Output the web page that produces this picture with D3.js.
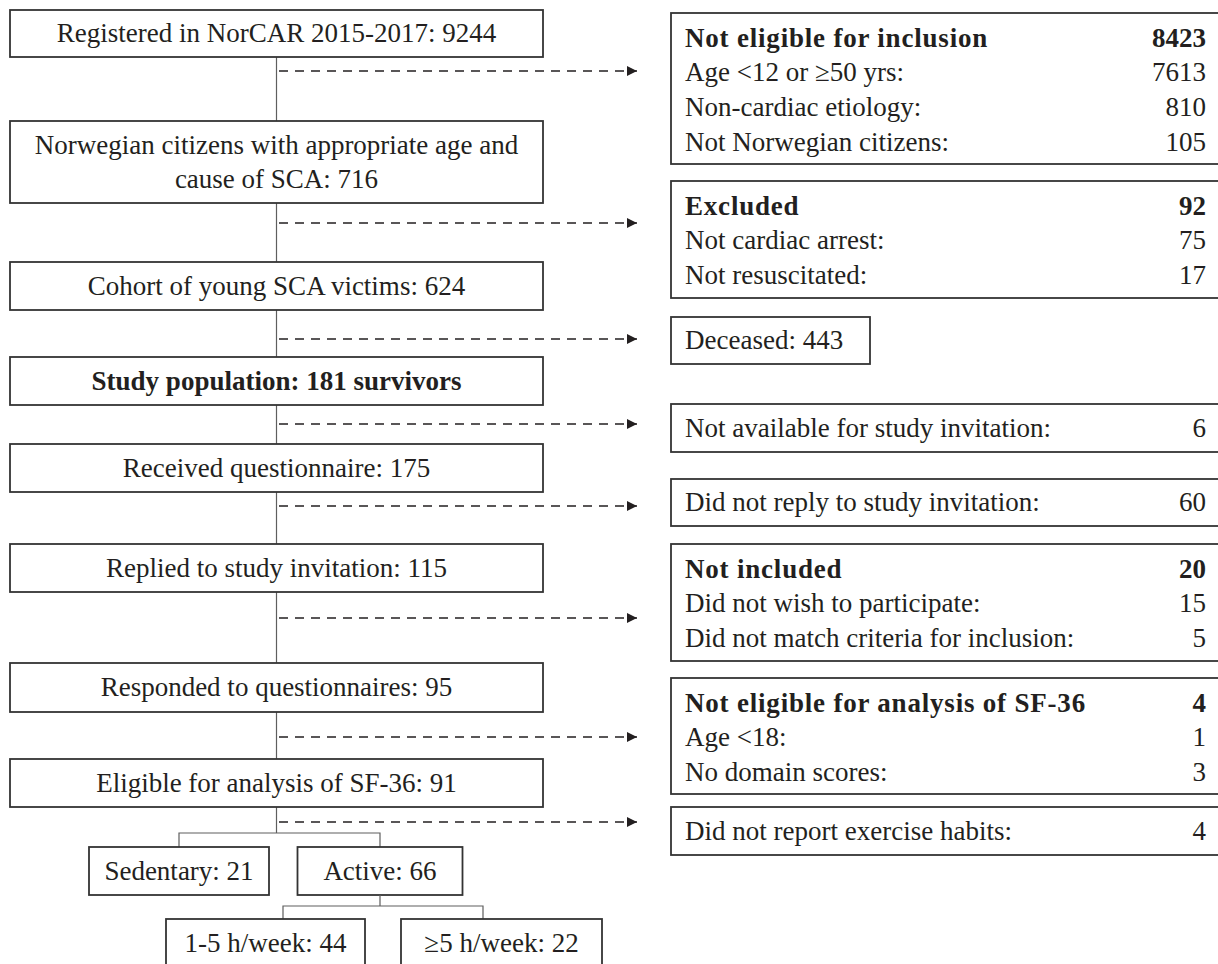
<!DOCTYPE html>
<html>
<head>
<meta charset="utf-8">
<script src="https://cdn.jsdelivr.net/npm/d3@7/dist/d3.min.js"></script>
<style>
  html, body { margin: 0; padding: 0; background: #ffffff; }
  svg { display: block; }
  text { font-family: "Liberation Serif", "Times New Roman", serif; fill: #231f20; }
</style>
</head>
<body>
<svg id="chart" width="1218" height="964"></svg>
<script>
// ---------------- DATA ----------------
const mainLabels = [
  "Registered in NorCAR 2015-2017",
  "Norwegian citizens with appropriate age and cause of SCA",
  "Cohort of young SCA victims",
  "Study population",
  "Received questionnaire",
  "Replied to study invitation",
  "Responded to questionnaires",
  "Eligible for analysis of SF-36"
];
const mainCounts = [9244, 716, 624, 181, 175, 115, 95, 91];
const mainSuffix = ["", "", "", " survivors", "", "", "", ""];
const mainBold = [false, false, false, true, false, false, false, false];

const sideTitles = [
  "Not eligible for inclusion",
  "Excluded",
  "Deceased",
  "Not available for study invitation",
  "Did not reply to study invitation",
  "Not included",
  "Not eligible for analysis of SF-36",
  "Did not report exercise habits"
];
const sideCounts = [8423, 92, 443, 6, 60, 20, 4, 4];
const sideItemLabels = [
  ["Age <12 or \u226550 yrs", "Non-cardiac etiology", "Not Norwegian citizens"],
  ["Not cardiac arrest", "Not resuscitated"],
  [], [], [],
  ["Did not wish to participate", "Did not match criteria for inclusion"],
  ["Age <18", "No domain scores"],
  []
];
const sideItemCounts = [
  [7613, 810, 105],
  [75, 17],
  [], [], [],
  [15, 5],
  [1, 3],
  []
];

const groupLabels = ["Sedentary", "Active"];
const groupCounts = [21, 66];
const subLabels = ["1-5 h/week", "\u22655 h/week"];
const subCounts = [44, 22];

// ---------------- LAYOUT ----------------
const FS = 27;
const LINE = 34.7;
const mainX0 = 10, mainX1 = 543, spineX = 276.5;
const mainTops = [10, 121, 262, 357, 444, 544, 663, 759];
const mainHeights = [47, 82, 48, 48, 48, 48, 49, 48];
const arrowYs = [71, 223, 339, 424, 506, 618, 737, 822];
const arrowX0 = 279, arrowX1 = 637;
const sideX0 = 671, sideX1 = 1222, sideTextX = 685, sideNumX = 1206;
const sideTops = [13, 181, 317, 404, 479, 544, 678, 807];
const sideHeights = [151, 117, 47, 48, 47, 117, 116, 48];
const deceasedWidth = 199;
const branchY = 833, groupTop = 847, groupH = 48;
const groupX = [[89, 269], [297.5, 462.5]];
const subBranchY = 906, subTop = 919, subH = 60;
const subX = [[166, 365], [401, 602]];
const subDrops = [283, 483];

const svg = d3.select("#chart");
const ink = "#231f20";
const boxStroke = "#333333";
const connector = "#5e5e5e";

const defs = svg.append("defs");
defs.append("marker")
  .attr("id", "arrow").attr("viewBox", "0 0 10 10")
  .attr("refX", 10).attr("refY", 5)
  .attr("markerWidth", 11).attr("markerHeight", 10)
  .attr("markerUnits", "userSpaceOnUse")
  .attr("orient", "auto")
  .append("path").attr("d", "M0,0 L10,5 L0,10 Z").attr("fill", ink);

// spine connectors
const gLines = svg.append("g");
mainTops.forEach((t, i) => {
  const y0 = t + mainHeights[i];
  const y1 = i < mainTops.length - 1 ? mainTops[i + 1] : branchY;
  gLines.append("line")
    .attr("x1", spineX).attr("x2", spineX).attr("y1", y0).attr("y2", y1)
    .attr("stroke", connector).attr("stroke-width", 1.2);
});

// dashed arrows
arrowYs.forEach(y => {
  gLines.append("line")
    .attr("x1", arrowX0).attr("x2", arrowX1).attr("y1", y).attr("y2", y)
    .attr("stroke", ink).attr("stroke-width", 1.6)
    .attr("stroke-dasharray", "9,7")
    .attr("marker-end", "url(#arrow)");
});

function box(g, x0, y0, x1, y1) {
  g.append("rect")
    .attr("x", x0).attr("y", y0).attr("width", x1 - x0).attr("height", y1 - y0)
    .attr("fill", "none").attr("stroke", boxStroke).attr("stroke-width", 1.8);
}

// main boxes
const gMain = svg.append("g");
mainLabels.forEach((lab, i) => {
  const top = mainTops[i], h = mainHeights[i];
  box(gMain, mainX0, top, mainX1, top + h);
  const full = lab + ": " + mainCounts[i] + mainSuffix[i];
  const words = full.split(" ");
  const lines = [];
  const probe = gMain.append("text").attr("font-size", FS).attr("font-weight", mainBold[i] ? "bold" : "normal");
  let cur = "";
  words.forEach(w => {
    const trial = cur ? cur + " " + w : w;
    probe.text(trial);
    if (probe.node().getComputedTextLength() > (mainX1 - mainX0 - 20) && cur) {
      lines.push(cur); cur = w;
    } else cur = trial;
  });
  lines.push(cur);
  probe.remove();
  const cy = top + h / 2;
  lines.forEach((ln, j) => {
    const y = cy + (j - (lines.length - 1) / 2) * LINE;
    gMain.append("text")
      .attr("x", spineX).attr("y", y).attr("dy", "0.33em")
      .attr("text-anchor", "middle").attr("font-size", FS)
      .attr("font-weight", mainBold[i] ? "bold" : "normal")
      .text(ln);
  });
});

// side boxes
const gSide = svg.append("g");
sideTitles.forEach((title, i) => {
  const top = sideTops[i], h = sideHeights[i];
  const items = sideItemLabels[i];
  const hasItems = items.length > 0;
  const isDeceased = i === 2;
  const x1 = isDeceased ? sideX0 + deceasedWidth : sideX1;
  box(gSide, sideX0, top, x1, top + h);
  const firstY = hasItems ? top + 24.7 : top + h / 2;
  if (isDeceased) {
    gSide.append("text").attr("x", sideTextX).attr("y", firstY).attr("dy", "0.33em")
      .attr("font-size", FS).text(title + ": " + sideCounts[i]);
    return;
  }
  gSide.append("text").attr("x", sideTextX).attr("y", firstY).attr("dy", "0.33em")
    .attr("font-size", FS).attr("font-weight", hasItems ? "bold" : "normal")
    .attr("letter-spacing", hasItems ? 0.8 : 0)
    .text(hasItems ? title : title + ":");
  gSide.append("text").attr("x", sideNumX).attr("y", firstY).attr("dy", "0.33em")
    .attr("text-anchor", "end")
    .attr("font-size", FS).attr("font-weight", hasItems ? "bold" : "normal")
    .text(sideCounts[i]);
  items.forEach((lab, j) => {
    const y = firstY + (j + 1) * LINE;
    gSide.append("text").attr("x", sideTextX).attr("y", y).attr("dy", "0.33em")
      .attr("font-size", FS).text(lab + ":");
    gSide.append("text").attr("x", sideNumX).attr("y", y).attr("dy", "0.33em")
      .attr("text-anchor", "end").attr("font-size", FS).text(sideItemCounts[i][j]);
  });
});

// group branch
const gGroup = svg.append("g");
const mid = d => (d[0] + d[1]) / 2;
const branchXs = groupX.map(mid);
gGroup.append("path")
  .attr("d", `M${branchXs[0]},${groupTop} V${branchY} H${branchXs[1]} V${groupTop}`)
  .attr("fill", "none").attr("stroke", connector).attr("stroke-width", 1.2);
groupLabels.forEach((lab, i) => {
  box(gGroup, groupX[i][0], groupTop, groupX[i][1], groupTop + groupH);
  gGroup.append("text").attr("x", mid(groupX[i])).attr("y", groupTop + groupH / 2).attr("dy", "0.33em")
    .attr("text-anchor", "middle").attr("font-size", FS).text(lab + ": " + groupCounts[i]);
});
gGroup.append("path")
  .attr("d", `M${branchXs[1]},${groupTop + groupH} V${subBranchY} M${subDrops[0]},${subTop} V${subBranchY} H${subDrops[1]} V${subTop}`)
  .attr("fill", "none").attr("stroke", connector).attr("stroke-width", 1.2);
subLabels.forEach((lab, i) => {
  box(gGroup, subX[i][0], subTop, subX[i][1], subTop + subH);
  gGroup.append("text").attr("x", mid(subX[i])).attr("y", 943).attr("dy", "0.33em")
    .attr("text-anchor", "middle").attr("font-size", FS).text(lab + ": " + subCounts[i]);
});
</script>
</body>
</html>
